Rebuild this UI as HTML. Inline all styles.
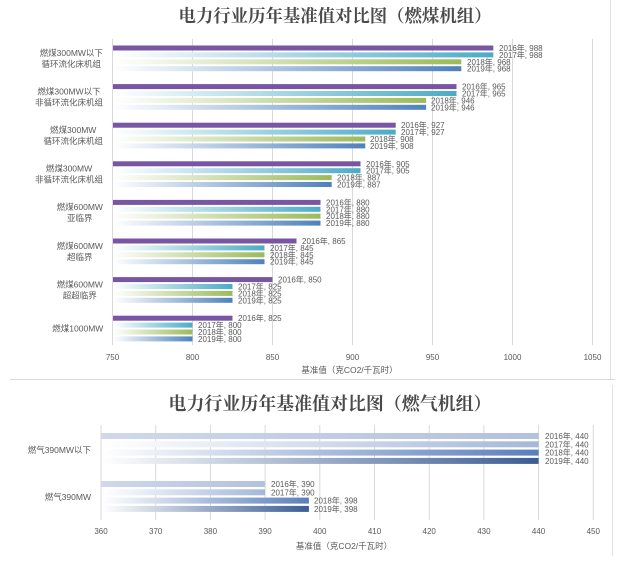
<!DOCTYPE html>
<html>
<head>
<meta charset="utf-8">
<style>
html,body{margin:0;padding:0;background:#fff;}
svg{display:block;}
.t{font-family:"Liberation Sans","Noto Sans CJK SC",sans-serif;fill:#595959;}
.ttl{font-family:"Liberation Serif","Noto Serif CJK SC",serif;font-weight:bold;fill:#4a4a4a;}
</style>
</head>
<body>
<svg width="640" height="571" viewBox="0 0 640 571" xmlns="http://www.w3.org/2000/svg">
<defs>
<linearGradient id="gT"><stop offset="0" stop-color="#ffffff"/><stop offset="1" stop-color="#4bacc6"/></linearGradient>
<linearGradient id="gG"><stop offset="0" stop-color="#ffffff"/><stop offset="1" stop-color="#9bbb59"/></linearGradient>
<linearGradient id="gB"><stop offset="0" stop-color="#ffffff"/><stop offset="1" stop-color="#4f81bd"/></linearGradient>
<linearGradient id="b1"><stop offset="0" stop-color="#cfd9ea"/><stop offset="1" stop-color="#b2c1dd"/></linearGradient>
<linearGradient id="b2"><stop offset="0" stop-color="#ffffff"/><stop offset="1" stop-color="#a5b8d7"/></linearGradient>
<linearGradient id="b3"><stop offset="0" stop-color="#ffffff"/><stop offset="1" stop-color="#5a7ebd"/></linearGradient>
<linearGradient id="b4"><stop offset="0" stop-color="#ffffff"/><stop offset="1" stop-color="#3b5c94"/></linearGradient>
</defs>

<!-- frames -->
<line x1="610.5" y1="0" x2="610.5" y2="379" stroke="#e2e2e2" stroke-width="1"/>
<line x1="10" y1="379.5" x2="615" y2="379.5" stroke="#d9d9d9" stroke-width="1"/>
<line x1="612.5" y1="385" x2="612.5" y2="556" stroke="#e2e2e2" stroke-width="1"/>

<!-- TOP CHART -->
<text class="ttl" x="335" y="22" font-size="17.4" text-anchor="middle" textLength="313" lengthAdjust="spacingAndGlyphs">电力行业历年基准值对比图（燃煤机组）</text>

<g stroke="#d9d9d9" stroke-width="1">
<line x1="112.5" y1="39" x2="112.5" y2="345"/>
<line x1="192.5" y1="39" x2="192.5" y2="345"/>
<line x1="272.5" y1="39" x2="272.5" y2="345"/>
<line x1="352.5" y1="39" x2="352.5" y2="345"/>
<line x1="432.5" y1="39" x2="432.5" y2="345"/>
<line x1="512.5" y1="39" x2="512.5" y2="345"/>
<line x1="592.5" y1="39" x2="592.5" y2="345"/>
</g>

<g class="t" font-size="8" text-anchor="middle">
<text x="112.5" y="360">750</text>
<text x="192.5" y="360">800</text>
<text x="272.5" y="360">850</text>
<text x="352.5" y="360">900</text>
<text x="432.5" y="360">950</text>
<text x="512.5" y="360">1000</text>
<text x="592.5" y="360">1050</text>
</g>
<text class="t" x="349.5" y="373" font-size="8.5" text-anchor="middle">基准值（克CO2/千瓦时）</text>

<!-- bars group 0 -->
<g>
<rect x="113" y="45.5" width="380.3" height="5" fill="#7856a3"/>
<rect x="113" y="52.4" width="380.3" height="5" fill="url(#gT)"/>
<rect x="113" y="59.3" width="348.3" height="5" fill="url(#gG)"/>
<rect x="113" y="66.2" width="348.3" height="5" fill="url(#gB)"/>

<rect x="113" y="84.1" width="343.5" height="5" fill="#7856a3"/>
<rect x="113" y="91" width="343.5" height="5" fill="url(#gT)"/>
<rect x="113" y="97.9" width="313.1" height="5" fill="url(#gG)"/>
<rect x="113" y="104.8" width="313.1" height="5" fill="url(#gB)"/>

<rect x="113" y="122.7" width="282.7" height="5" fill="#7856a3"/>
<rect x="113" y="129.6" width="282.7" height="5" fill="url(#gT)"/>
<rect x="113" y="136.5" width="252.3" height="5" fill="url(#gG)"/>
<rect x="113" y="143.4" width="252.3" height="5" fill="url(#gB)"/>

<rect x="113" y="161.3" width="247.5" height="5" fill="#7856a3"/>
<rect x="113" y="168.2" width="247.5" height="5" fill="url(#gT)"/>
<rect x="113" y="175.1" width="218.7" height="5" fill="url(#gG)"/>
<rect x="113" y="182" width="218.7" height="5" fill="url(#gB)"/>

<rect x="113" y="199.9" width="207.5" height="5" fill="#7856a3"/>
<rect x="113" y="206.8" width="207.5" height="5" fill="url(#gT)"/>
<rect x="113" y="213.7" width="207.5" height="5" fill="url(#gG)"/>
<rect x="113" y="220.6" width="207.5" height="5" fill="url(#gB)"/>

<rect x="113" y="238.5" width="183.5" height="5" fill="#7856a3"/>
<rect x="113" y="245.4" width="151.5" height="5" fill="url(#gT)"/>
<rect x="113" y="252.3" width="151.5" height="5" fill="url(#gG)"/>
<rect x="113" y="259.2" width="151.5" height="5" fill="url(#gB)"/>

<rect x="113" y="277.1" width="159.5" height="5" fill="#7856a3"/>
<rect x="113" y="284" width="119.5" height="5" fill="url(#gT)"/>
<rect x="113" y="290.9" width="119.5" height="5" fill="url(#gG)"/>
<rect x="113" y="297.8" width="119.5" height="5" fill="url(#gB)"/>

<rect x="113" y="315.7" width="119.5" height="5" fill="#7856a3"/>
<rect x="113" y="322.6" width="79.5" height="5" fill="url(#gT)"/>
<rect x="113" y="329.5" width="79.5" height="5" fill="url(#gG)"/>
<rect x="113" y="336.4" width="79.5" height="5" fill="url(#gB)"/>
</g>

<!-- top data labels -->
<g class="t" font-size="8">
<text x="499" y="51">2016年, 988</text>
<text x="499" y="57.9">2017年, 988</text>
<text x="467" y="64.8">2018年, 968</text>
<text x="467" y="71.7">2019年, 968</text>

<text x="462" y="89.6">2016年, 965</text>
<text x="462" y="96.5">2017年, 965</text>
<text x="431" y="103.4">2018年, 946</text>
<text x="431" y="110.3">2019年, 946</text>

<text x="401" y="128.2">2016年, 927</text>
<text x="401" y="135.1">2017年, 927</text>
<text x="370" y="142">2018年, 908</text>
<text x="370" y="148.9">2019年, 908</text>

<text x="366" y="166.8">2016年, 905</text>
<text x="366" y="173.7">2017年, 905</text>
<text x="337" y="180.6">2018年, 887</text>
<text x="337" y="187.5">2019年, 887</text>

<text x="326" y="205.4">2016年, 880</text>
<text x="326" y="212.3">2017年, 880</text>
<text x="326" y="219.2">2018年, 880</text>
<text x="326" y="226.1">2019年, 880</text>

<text x="302" y="244">2016年, 865</text>
<text x="270" y="250.9">2017年, 845</text>
<text x="270" y="257.8">2018年, 845</text>
<text x="270" y="264.7">2019年, 845</text>

<text x="278" y="282.6">2016年, 850</text>
<text x="238" y="289.5">2017年, 825</text>
<text x="238" y="296.4">2018年, 825</text>
<text x="238" y="303.3">2019年, 825</text>

<text x="238" y="321.2">2016年, 825</text>
<text x="198" y="328.1">2017年, 800</text>
<text x="198" y="335">2018年, 800</text>
<text x="198" y="341.9">2019年, 800</text>
</g>

<!-- top category labels -->
<g class="t" font-size="8.5" text-anchor="middle">
<text x="71.3" y="55.8">燃煤300MW以下</text>
<text x="71.3" y="66.8">循环流化床机组</text>
<text x="69" y="94.4">燃煤300MW以下</text>
<text x="69" y="105.4">非循环流化床机组</text>
<text x="73.2" y="133">燃煤300MW</text>
<text x="73.2" y="144">循环流化床机组</text>
<text x="69" y="171.6">燃煤300MW</text>
<text x="69" y="182.6">非循环流化床机组</text>
<text x="79.8" y="210.2">燃煤600MW</text>
<text x="79.8" y="221.2">亚临界</text>
<text x="79.8" y="248.8">燃煤600MW</text>
<text x="79.8" y="259.8">超临界</text>
<text x="79.8" y="287.4">燃煤600MW</text>
<text x="79.8" y="298.4">超超临界</text>
<text x="77.8" y="331.5">燃煤1000MW</text>
</g>

<!-- BOTTOM CHART -->
<text class="ttl" x="330" y="410" font-size="18" text-anchor="middle" textLength="323" lengthAdjust="spacingAndGlyphs">电力行业历年基准值对比图（燃气机组）</text>

<g stroke="#d9d9d9" stroke-width="1">
<line x1="101" y1="425" x2="101" y2="520"/>
<line x1="155.7" y1="425" x2="155.7" y2="520"/>
<line x1="210.4" y1="425" x2="210.4" y2="520"/>
<line x1="265.1" y1="425" x2="265.1" y2="520"/>
<line x1="319.8" y1="425" x2="319.8" y2="520"/>
<line x1="374.5" y1="425" x2="374.5" y2="520"/>
<line x1="429.2" y1="425" x2="429.2" y2="520"/>
<line x1="483.9" y1="425" x2="483.9" y2="520"/>
<line x1="538.6" y1="425" x2="538.6" y2="520"/>
<line x1="593.3" y1="425" x2="593.3" y2="520"/>
</g>

<g class="t" font-size="8" text-anchor="middle">
<text x="101" y="534">360</text>
<text x="155.7" y="534">370</text>
<text x="210.4" y="534">380</text>
<text x="265.1" y="534">390</text>
<text x="319.8" y="534">400</text>
<text x="374.5" y="534">410</text>
<text x="429.2" y="534">420</text>
<text x="483.9" y="534">430</text>
<text x="538.6" y="534">440</text>
<text x="593.3" y="534">450</text>
</g>
<text class="t" x="344" y="549" font-size="8.5" text-anchor="middle">基准值（克CO2/千瓦时）</text>

<g>
<rect x="101.5" y="433" width="437.1" height="6" fill="url(#b1)"/>
<rect x="101.5" y="441.3" width="437.1" height="6" fill="url(#b2)"/>
<rect x="101.5" y="449.6" width="437.1" height="6" fill="url(#b3)"/>
<rect x="101.5" y="457.9" width="437.1" height="6" fill="url(#b4)"/>

<rect x="101.5" y="481" width="163.6" height="6" fill="url(#b1)"/>
<rect x="101.5" y="489.3" width="163.6" height="6" fill="url(#b2)"/>
<rect x="101.5" y="497.6" width="207.4" height="6" fill="url(#b3)"/>
<rect x="101.5" y="505.9" width="207.4" height="6" fill="url(#b4)"/>
</g>

<g class="t" font-size="8">
<text x="545" y="439">2016年, 440</text>
<text x="545" y="447.3">2017年, 440</text>
<text x="545" y="455.6">2018年, 440</text>
<text x="545" y="463.9">2019年, 440</text>
<text x="271" y="487">2016年, 390</text>
<text x="271" y="495.3">2017年, 390</text>
<text x="314" y="503.6">2018年, 398</text>
<text x="314" y="511.9">2019年, 398</text>
</g>

<g class="t" font-size="8.5" text-anchor="end">
<text x="91" y="453">燃气390MW以下</text>
<text x="91" y="500">燃气390MW</text>
</g>
</svg>
</body>
</html>
